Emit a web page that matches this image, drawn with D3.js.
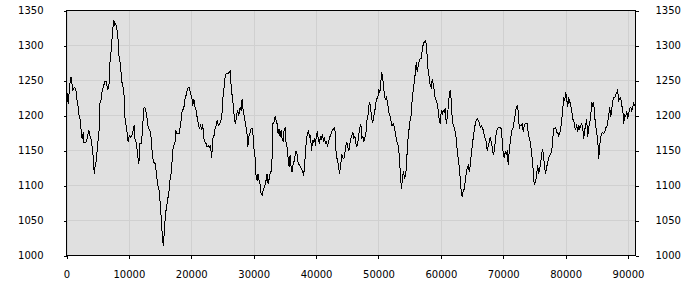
<!DOCTYPE html>
<html>
<head>
<meta charset="utf-8">
<script src="https://cdn.jsdelivr.net/npm/d3@7"></script>
<style>
  body { margin: 0; background: #fff; }
  text { font-family: "DejaVu Sans", Verdana, sans-serif; font-size: 10px; fill: #000; }
</style>
</head>
<body>
<svg id="chart" width="700" height="300"></svg>
<script>
// tick labels
const xTicks = [0, 10000, 20000, 30000, 40000, 50000, 60000, 70000, 80000, 90000];
const yTicks = [1000, 1050, 1100, 1150, 1200, 1250, 1300, 1350];

// series: positions and levels
const pos = [
  0, 270, 640, 800, 960, 1280, 1500, 1600, 1870, 2030, 2240, 2410, 2570, 2670, 2780, 3100, 3310, 3580, 3740, 4010,
  4170, 4330, 4440, 4600, 4810, 4970, 5180, 5350, 5510, 5720, 6150, 6410, 6570, 6790, 6950, 7220, 7380, 7590, 7750, 7910,
  8120, 8280, 8450, 8660, 8820, 9090, 9250, 9350, 9510, 9730, 9890, 10050, 10260, 10480, 10690, 10850, 10960, 11220, 11380, 11600,
  11760, 12030, 12190, 12400, 12560, 12720, 12930, 13100, 13360, 13580, 13790, 14000, 14220, 14430, 14590, 14860, 15070, 15230, 15390, 15500,
  15660, 15870, 16040, 16200, 16410, 16570, 16840, 17000, 17210, 17370, 17530, 17690, 17910, 18070, 18280,
  18370, 18530, 18790, 19010, 19170, 19330, 19540, 19700, 19860, 20080, 20240, 20400, 20610, 20770, 20930, 21150, 21310, 21470, 21680, 21840,
  22000, 22210, 22370, 22530, 22750, 22910, 23070, 23280, 23440, 23600, 23820, 23980, 24140, 24350, 24510, 24670, 24890, 25050, 25210, 25420,
  25580, 25850, 26120, 26280, 26380, 26540, 26760, 26920, 27080, 27290, 27450, 27610, 27830, 27990, 28150, 28310, 28520, 28680, 28900, 29060,
  29220, 29430, 29590, 29750, 29860, 30020, 30230, 30390, 30550, 30710, 30870, 31030, 31190, 31350, 31510, 31730, 31940, 32160, 32320, 32530,
  32690, 32900, 33060, 33230, 33440, 33600, 33760, 33920, 34080, 34240, 34400, 34560, 34720, 34880, 35040, 35200, 35360, 35520, 35680, 35840,
  36000, 36160, 36330, 36540, 36700,
  36810, 36970, 37130, 37350, 37510, 37670, 37830, 37990, 38150, 38310, 38470, 38630, 38790, 38950, 39110, 39270, 39430, 39590, 39750, 39910,
  40070, 40230, 40390, 40550, 40710, 40870, 41030, 41190, 41350, 41510, 41670, 41830, 41990, 42160, 42320, 42480, 42640, 42800, 42960, 43120,
  43230, 43440, 43600, 43760, 43920, 44130, 44290, 44450, 44610, 44770, 44930, 45090, 45260, 45420, 45580, 45740, 45900, 46060, 46220, 46380,
  46540, 46700, 46860, 47020, 47180, 47340, 47500, 47660, 47820, 47980, 48140, 48300, 48460, 48620, 48780, 48940, 49100, 49270, 49430, 49590,
  49750, 49910, 50070, 50230, 50390, 50490, 50650, 50810, 50970, 51130, 51290, 51460, 51620, 51780, 51940, 52100, 52260, 52420, 52580, 52740,
  52900, 53060, 53220, 53380, 53540, 53700, 53860, 54020, 54180, 54340, 54500, 54660, 54820, 54980, 55140,
  55260, 55420, 55580, 55740, 55900, 56060, 56220, 56380, 56540, 56700, 56860, 57020, 57180, 57340, 57500, 57660, 57820, 57980, 58140, 58300,
  58460, 58620, 58780, 58940, 59100, 59260, 59425, 59585, 59745, 59905, 60065, 60225, 60385, 60545, 60705, 60870, 61030, 61190, 61350, 61510,
  61670, 61830, 61990, 62150, 62310, 62470, 62630, 62790, 62950, 63110, 63275, 63435, 63595, 63755, 63915, 64075, 64235, 64395, 64555, 64715,
  64875, 65035, 65200, 65360, 65520, 65680, 65840, 66000, 66160, 66320, 66480, 66640, 66800, 66960, 67120, 67280, 67440, 67600, 67765, 67925,
  68085, 68245, 68405, 68565, 68725, 68885, 69045, 69205, 69365, 69525, 69690, 69850, 70010, 70170, 70330, 70490, 70650, 70810, 70970, 71130,
  71290, 71450, 71610, 71770, 71930, 72090, 72255, 72415, 72575, 72735, 72895, 73055, 73215, 73375, 73535,
  73700, 73860, 74020, 74180, 74340, 74500, 74660, 74770, 74880, 75040, 75200, 75360, 75520, 75680, 75840, 76000, 76160, 76320, 76480, 76640,
  76800, 76960, 77120, 77280, 77440, 77600, 77760, 77920, 78080, 78240, 78405, 78565, 78725, 78885, 79045, 79205, 79370, 79530, 79690, 79850,
  80010, 80170, 80330, 80490, 80650, 80810, 80970, 81130, 81290, 81450, 81610, 81770, 81930, 82090, 82250, 82410, 82570, 82735, 82895, 83055,
  83215, 83375, 83535, 83695, 83860, 84020, 84180, 84340, 84500, 84660, 84820, 84980, 85140, 85300, 85460, 85620, 85780, 85940, 86100, 86260,
  86420, 86580, 86740, 86900, 87065, 87225, 87385, 87545, 87705, 87865, 88025, 88185, 88345, 88505, 88665, 88830, 88990, 89150, 89310, 89470,
  89630, 89790, 89950, 90110, 90270, 90430, 90590, 90750, 90910, 91070
];
const level = [
  1238, 1217, 1255, 1255, 1236, 1240, 1238, 1226, 1212, 1198, 1193, 1169, 1167, 1176, 1162, 1162, 1167, 1179, 1171, 1164,
  1150, 1136, 1117, 1129, 1136, 1160, 1169, 1217, 1221, 1236, 1248, 1248, 1238, 1240, 1274, 1298, 1321, 1336, 1329, 1331,
  1321, 1307, 1279, 1274, 1250, 1240, 1226, 1198, 1188, 1174, 1162, 1171, 1169, 1171, 1179, 1186, 1167, 1160, 1145, 1131,
  1160, 1160, 1183, 1210, 1212, 1207, 1195, 1183, 1179, 1167, 1140, 1133, 1131, 1117, 1102, 1093, 1069, 1045, 1026, 1014,
  1031, 1060, 1069, 1079, 1090, 1107, 1121, 1150, 1157, 1160, 1179, 1174, 1174, 1174, 1188,
  1193, 1207, 1210, 1224, 1229, 1236, 1240, 1240, 1231, 1226, 1214, 1224, 1212, 1207, 1198, 1188, 1181, 1186, 1179, 1188,
  1167, 1162, 1160, 1155, 1157, 1155, 1157, 1140, 1167, 1169, 1181, 1186, 1193, 1186, 1188, 1190, 1198, 1224, 1236, 1255,
  1260, 1260, 1262, 1264, 1243, 1229, 1212, 1195, 1188, 1202, 1207, 1200, 1212, 1207, 1224, 1207, 1198, 1188, 1179, 1155,
  1169, 1176, 1181, 1181, 1176, 1155, 1140, 1112, 1107, 1117, 1107, 1102, 1088, 1086, 1093, 1098, 1105, 1117, 1102, 1112,
  1119, 1121, 1188, 1190, 1198, 1193, 1188, 1174, 1181, 1169, 1179, 1167, 1164, 1179, 1183, 1160, 1155, 1140, 1126, 1143,
  1126, 1119, 1131, 1136, 1148,
  1148, 1145, 1131, 1129, 1126, 1124, 1121, 1114, 1126, 1150, 1167, 1174, 1179, 1169, 1171, 1150, 1164, 1162, 1167, 1157,
  1174, 1176, 1164, 1160, 1171, 1167, 1174, 1162, 1169, 1160, 1162, 1157, 1162, 1169, 1171, 1176, 1179, 1181, 1183, 1171,
  1140, 1138, 1126, 1117, 1126, 1145, 1140, 1138, 1145, 1157, 1162, 1155, 1150, 1160, 1167, 1171, 1176, 1167, 1171, 1160,
  1155, 1162, 1174, 1183, 1188, 1167, 1171, 1162, 1169, 1174, 1193, 1198, 1214, 1219, 1207, 1195, 1190, 1200, 1207, 1219,
  1224, 1226, 1236, 1233, 1248, 1262, 1257, 1243, 1226, 1224, 1226, 1219, 1207, 1200, 1198, 1186, 1186, 1188, 1181, 1174,
  1164, 1160, 1155, 1136, 1112, 1095, 1112, 1121, 1110, 1114, 1129, 1160, 1174, 1186, 1198,
  1200, 1226, 1236, 1248, 1260, 1276, 1262, 1271, 1279, 1281, 1281, 1293, 1302, 1305, 1307, 1302, 1283, 1262, 1255, 1243,
  1240, 1252, 1245, 1236, 1224, 1221, 1217, 1207, 1193, 1188, 1207, 1202, 1207, 1205, 1210, 1188, 1198, 1212, 1229, 1236,
  1221, 1195, 1186, 1183, 1176, 1167, 1150, 1138, 1126, 1110, 1090, 1083, 1093, 1095, 1107, 1117, 1126, 1129, 1119, 1129,
  1145, 1157, 1169, 1179, 1188, 1193, 1195, 1193, 1190, 1183, 1186, 1183, 1179, 1171, 1167, 1162, 1150, 1157, 1162, 1169,
  1162, 1155, 1143, 1150, 1162, 1176, 1181, 1183, 1183, 1183, 1181, 1162, 1145, 1140, 1148, 1145, 1148, 1129, 1150, 1162,
  1174, 1181, 1183, 1193, 1202, 1212, 1214, 1205, 1181, 1186, 1186, 1188, 1176, 1186, 1188,
  1188, 1188, 1174, 1167, 1162, 1150, 1136, 1126, 1107, 1102, 1105, 1117, 1129, 1117, 1124, 1131, 1145, 1152, 1140, 1126,
  1117, 1126, 1133, 1140, 1143, 1145, 1148, 1164, 1181, 1181, 1183, 1176, 1176, 1171, 1174, 1181, 1193, 1207, 1226, 1221,
  1233, 1224, 1212, 1224, 1221, 1214, 1207, 1195, 1195, 1183, 1179, 1188, 1176, 1186, 1181, 1186, 1188, 1183, 1167, 1179,
  1186, 1195, 1169, 1183, 1190, 1198, 1219, 1214, 1219, 1198, 1186, 1174, 1167, 1138, 1157, 1169, 1174, 1176, 1174, 1176,
  1183, 1183, 1190, 1200, 1212, 1198, 1207, 1221, 1226, 1226, 1229, 1233, 1236, 1221, 1224, 1226, 1214, 1210, 1188, 1202,
  1198, 1207, 1195, 1202, 1210, 1212, 1207, 1212, 1217, 1214
];

const svg = d3.select("#chart");

const x = d3.scaleLinear().domain([0, 91200]).range([66.5, 635.5]);
const y = d3.scaleLinear().domain([1000, 1350]).range([255.5, 10.5]);

// plot background
svg.append("rect")
  .attr("x", x(0)).attr("y", y(1350))
  .attr("width", x(91200) - x(0)).attr("height", y(1000) - y(1350))
  .attr("fill", "#e0e0e0");

// grid
const grid = svg.append("g").attr("shape-rendering", "crispEdges");
grid.selectAll(".gx").data(xTicks).join("line")
  .attr("x1", d => Math.round(x(d)) + 0.5).attr("x2", d => Math.round(x(d)) + 0.5)
  .attr("y1", y(1350)).attr("y2", y(1000))
  .attr("stroke", "#d0d0d0");
grid.selectAll(".gy").data(yTicks).join("line")
  .attr("x1", x(0)).attr("x2", x(91200))
  .attr("y1", d => y(d)).attr("y2", d => y(d))
  .attr("stroke", "#d0d0d0");

// series
const line = d3.line()
  .x((d, i) => x(pos[i]))
  .y(d => y(d));

svg.append("path")
  .datum(level)
  .attr("d", line)
  .attr("fill", "none")
  .attr("stroke", "#000")
  .attr("stroke-width", 1)
  .attr("shape-rendering", "crispEdges");

// frame
svg.append("rect")
  .attr("x", x(0)).attr("y", y(1350))
  .attr("width", x(91200) - x(0)).attr("height", y(1000) - y(1350))
  .attr("fill", "none").attr("stroke", "#000")
  .attr("shape-rendering", "crispEdges");

// axes
function styleAxis(g) {
  g.select(".domain").remove();
  g.selectAll("line").attr("stroke", "#000").attr("shape-rendering", "crispEdges");
  g.selectAll("text").attr("fill", "#000").style("font-size", "10px")
    .style("font-family", "'DejaVu Sans', Verdana, sans-serif");
}

svg.append("g")
  .attr("transform", "translate(" + x(0) + ",0)")
  .call(d3.axisLeft(y).tickValues(yTicks).tickSize(3).tickPadding(20).tickFormat(d3.format("d")))
  .call(styleAxis);

svg.append("g")
  .attr("transform", "translate(" + x(91200) + ",0)")
  .call(d3.axisRight(y).tickValues(yTicks).tickSize(3).tickPadding(17).tickFormat(d3.format("d")))
  .call(styleAxis);

svg.append("g")
  .attr("transform", "translate(0," + y(1000) + ")")
  .call(d3.axisBottom(x).tickValues(xTicks).tickSize(3).tickPadding(12).tickFormat(d3.format("d")))
  .call(styleAxis);
</script>
</body>
</html>
